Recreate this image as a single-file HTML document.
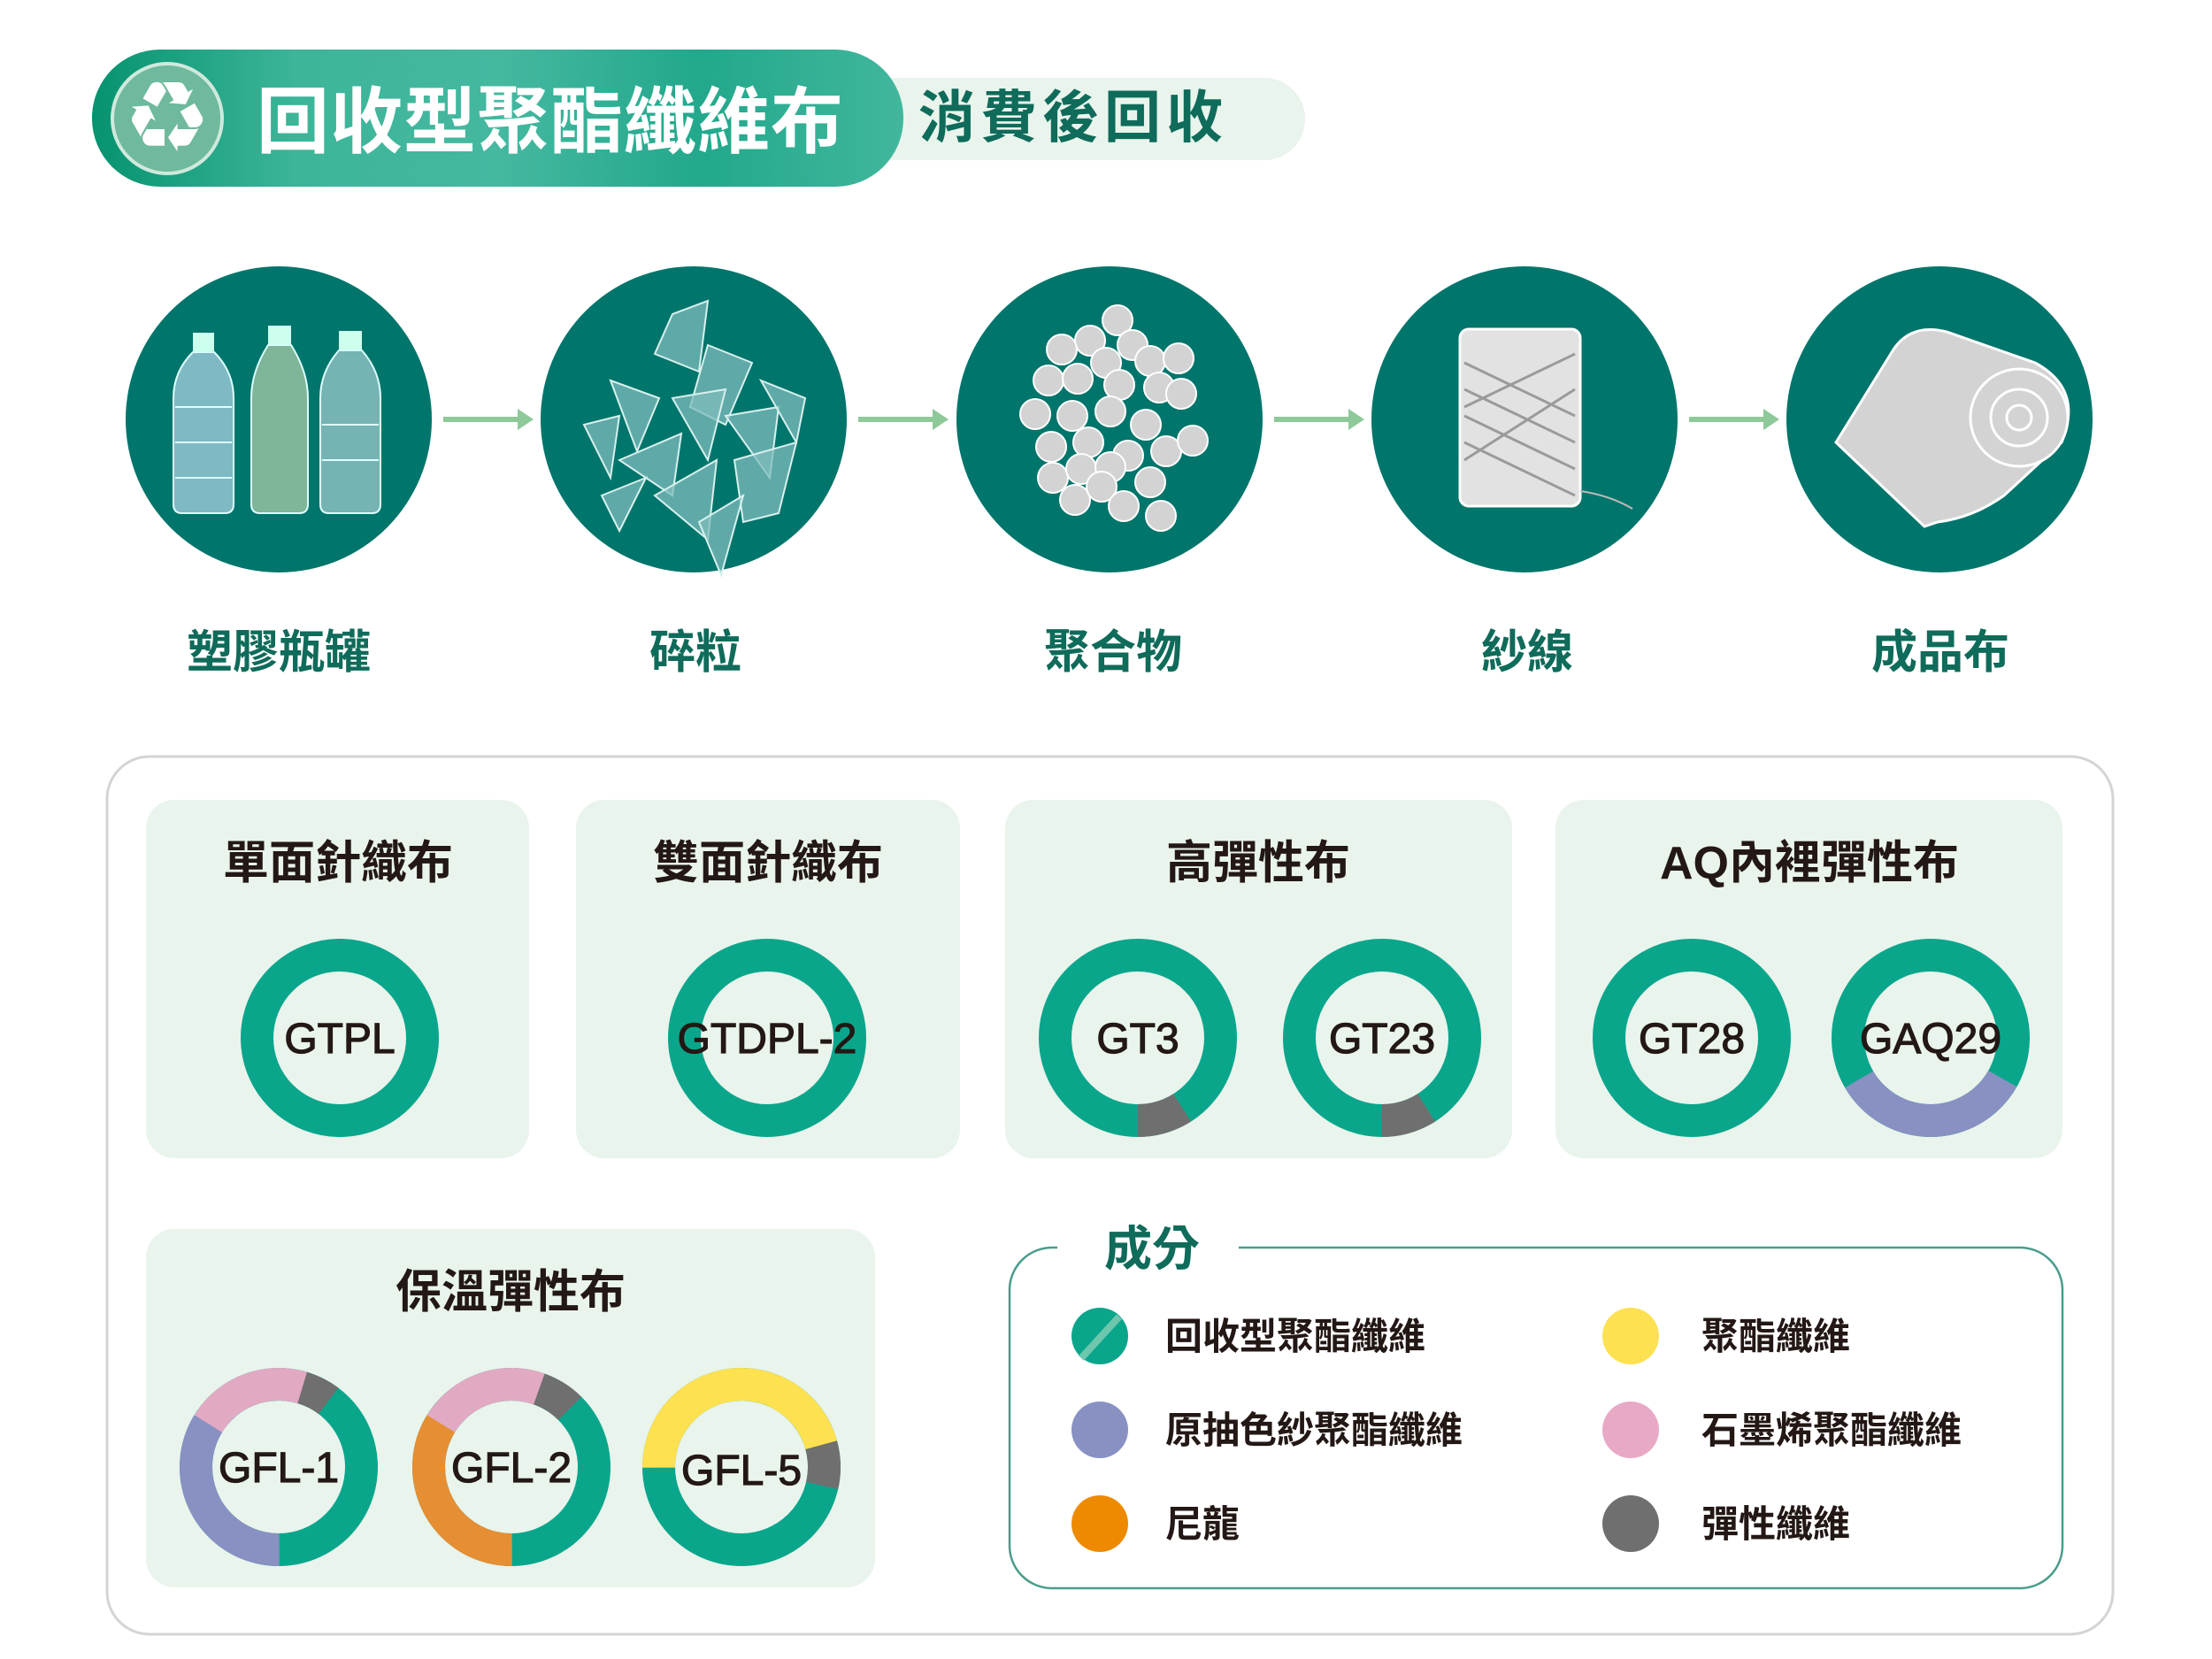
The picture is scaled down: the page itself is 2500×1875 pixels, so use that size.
<!DOCTYPE html>
<html><head><meta charset="utf-8"><style>
html,body{margin:0;padding:0;background:#fff;}
svg{display:block;}
text{font-family:"Liberation Sans","Noto Sans CJK TC",sans-serif;}
</style></head><body>
<svg width="2500" height="1875" viewBox="0 0 2500 1875" xmlns="http://www.w3.org/2000/svg">
<defs>
<linearGradient id="hg" x1="0" x2="1" y1="0" y2="0">
<stop offset="0" stop-color="#06936f"/><stop offset="0.25" stop-color="#3cb598"/><stop offset="0.5" stop-color="#45b8a0"/><stop offset="0.75" stop-color="#22a88c"/><stop offset="1" stop-color="#41b79c"/>
</linearGradient>
</defs>
<!-- header -->
<rect x="960" y="88" width="515" height="93" rx="46" fill="#e9f4ec"/>
<rect x="104" y="56" width="917" height="155" rx="77" fill="url(#hg)"/>
<circle cx="189" cy="134" r="62" fill="#6fb99c" stroke="#cfe9dd" stroke-width="4"/>
<text x="189" y="162" font-size="84" fill="#fff" text-anchor="middle">♻</text>
<text x="290" y="166" font-size="82" font-weight="bold" fill="#fff" letter-spacing="1">回收型聚酯纖維布</text>
<text x="1038" y="155" font-size="64" font-weight="bold" fill="#0f6b5a" letter-spacing="6">消費後回收</text>

<!-- process circles -->
<g fill="#00756b">
<circle cx="315" cy="474" r="173"/><circle cx="784" cy="474" r="173"/><circle cx="1254" cy="474" r="173"/><circle cx="1723" cy="474" r="173"/><circle cx="2192" cy="474" r="173"/>
</g>
<g stroke="#8ec99a" stroke-width="6" fill="#8ec99a">
<line x1="501" y1="474" x2="590" y2="474"/><polygon points="585,462 603,474 585,486" stroke="none"/>
<line x1="970" y1="474" x2="1059" y2="474"/><polygon points="1054,462 1072,474 1054,486" stroke="none"/>
<line x1="1440" y1="474" x2="1529" y2="474"/><polygon points="1524,462 1542,474 1524,486" stroke="none"/>
<line x1="1909" y1="474" x2="1998" y2="474"/><polygon points="1993,462 2011,474 1993,486" stroke="none"/>
</g>
<!-- bottles -->
<g stroke="#dff" stroke-width="2">
<path d="M218,398 L242,398 Q264,420 264,450 L264,570 Q264,580 254,580 L206,580 Q196,580 196,570 L196,450 Q196,420 218,398 Z" fill="#7fb9c4"/>
<path d="M303,390 L329,390 Q348,420 348,450 L348,570 Q348,580 338,580 L294,580 Q284,580 284,570 L284,450 Q284,420 303,390 Z" fill="#7fb598"/>
<path d="M383,396 L409,396 Q430,420 430,450 L430,570 Q430,580 420,580 L372,580 Q362,580 362,570 L362,450 Q362,420 383,396 Z" fill="#76b3b3"/>
</g>
<g fill="#cfe" ><rect x="218" y="376" width="24" height="22"/><rect x="303" y="368" width="26" height="22"/><rect x="383" y="374" width="26" height="22"/></g>
<g stroke="#dff" stroke-width="2" fill="none">
<line x1="198" y1="460" x2="262" y2="460"/><line x1="198" y1="500" x2="262" y2="500"/><line x1="198" y1="540" x2="262" y2="540"/>
<line x1="364" y1="480" x2="428" y2="480"/><line x1="364" y1="520" x2="428" y2="520"/>
</g>
<!-- shards -->
<g fill="#7fbcbc" fill-opacity="0.75" stroke="#d8f0ee" stroke-width="2">
<polygon points="760,355 800,340 790,420 740,400"/>
<polygon points="690,430 745,450 720,510"/>
<polygon points="800,390 850,410 820,480 780,460"/>
<polygon points="700,520 770,490 760,560"/>
<polygon points="820,470 880,460 870,540"/>
<polygon points="740,560 810,520 800,610"/>
<polygon points="830,520 900,500 880,580 840,590"/>
<polygon points="790,590 840,560 815,650"/>
<polygon points="660,480 700,470 690,540"/>
<polygon points="860,430 910,450 900,500"/>
<polygon points="760,450 820,440 800,520"/>
<polygon points="680,560 730,540 700,600"/>
</g>
<!-- pellets -->
<g fill="#d3d3d3" stroke="#fff" stroke-width="2">
<circle cx="1263" cy="362" r="17"/><circle cx="1232" cy="385" r="17"/><circle cx="1280" cy="390" r="17"/><circle cx="1200" cy="395" r="17"/><circle cx="1250" cy="410" r="17"/>
<circle cx="1300" cy="408" r="17"/><circle cx="1332" cy="405" r="17"/><circle cx="1185" cy="430" r="17"/><circle cx="1218" cy="428" r="17"/><circle cx="1265" cy="435" r="17"/>
<circle cx="1310" cy="438" r="17"/><circle cx="1335" cy="445" r="17"/><circle cx="1170" cy="468" r="17"/><circle cx="1212" cy="470" r="17"/><circle cx="1255" cy="465" r="17"/>
<circle cx="1295" cy="480" r="17"/><circle cx="1318" cy="510" r="17"/><circle cx="1348" cy="498" r="17"/><circle cx="1188" cy="505" r="17"/><circle cx="1230" cy="500" r="17"/>
<circle cx="1275" cy="515" r="17"/><circle cx="1190" cy="540" r="17"/><circle cx="1222" cy="530" r="17"/><circle cx="1255" cy="528" r="17"/><circle cx="1300" cy="545" r="17"/>
<circle cx="1215" cy="565" r="17"/><circle cx="1245" cy="550" r="17"/><circle cx="1270" cy="572" r="17"/><circle cx="1312" cy="583" r="17"/>
</g>
<!-- spool -->
<rect x="1650" y="372" width="136" height="200" rx="10" fill="#e2e2e2" stroke="#fff" stroke-width="3"/>
<g stroke="#9a9a9a" stroke-width="3">
<line x1="1655" y1="410" x2="1780" y2="470"/><line x1="1655" y1="440" x2="1780" y2="500"/><line x1="1655" y1="470" x2="1780" y2="530"/><line x1="1655" y1="500" x2="1780" y2="560"/><line x1="1780" y1="400" x2="1655" y2="460"/><line x1="1780" y1="440" x2="1655" y2="520"/>
</g>
<path d="M1786,555 Q1820,560 1845,575" stroke="#bbb" stroke-width="2" fill="none"/>
<!-- roll -->
<path d="M2075,500 L2140,395 Q2160,365 2200,375 L2300,410 Q2355,440 2330,500 L2265,560 Q2230,585 2190,590 L2175,595 Z" fill="#d3d3d3" stroke="#fff" stroke-width="3"/>
<circle cx="2282" cy="472" r="55" fill="#d3d3d3" stroke="#fff" stroke-width="3"/>
<circle cx="2282" cy="472" r="32" fill="none" stroke="#fff" stroke-width="3"/>
<circle cx="2282" cy="472" r="14" fill="none" stroke="#fff" stroke-width="3"/>

<g font-size="52" font-weight="bold" fill="#0f6b5a" text-anchor="middle">
<text x="315" y="755">塑膠瓶罐</text><text x="786" y="755">碎粒</text><text x="1258" y="755">聚合物</text><text x="1726" y="755">紗線</text><text x="2193" y="755">成品布</text>
</g>

<!-- outer box -->
<rect x="121" y="855" width="2267" height="992" rx="48" fill="#fff" stroke="#d4d4d4" stroke-width="3"/>
<g fill="#e9f4ec">
<rect x="165" y="904" width="433" height="405" rx="32"/>
<rect x="651" y="904" width="434" height="405" rx="32"/>
<rect x="1136" y="904" width="573" height="405" rx="32"/>
<rect x="1758" y="904" width="573" height="405" rx="32"/>
<rect x="165" y="1389" width="824" height="405" rx="32"/>
</g>
<g font-size="52" font-weight="bold" fill="#231815" text-anchor="middle">
<text x="382" y="993">單面針織布</text><text x="868" y="993">雙面針織布</text><text x="1422" y="993">高彈性布</text><text x="2045" y="993">AQ內裡彈性布</text><text x="577" y="1478">保溫彈性布</text>
</g>

<!-- donuts -->
<g fill="none" stroke-width="37">
<circle cx="384" cy="1173" r="93.5" stroke="#0aa68c"/>
<circle cx="867" cy="1173" r="93.5" stroke="#0aa68c"/>
<circle cx="1286" cy="1173" r="93.5" stroke="#0aa68c"/>
<circle cx="1286" cy="1173" r="93.5" stroke="#6f6f6f" pathLength="360" stroke-dasharray="32 328" transform="rotate(58 1286 1173)"/>
<circle cx="1562" cy="1173" r="93.5" stroke="#0aa68c"/>
<circle cx="1562" cy="1173" r="93.5" stroke="#6f6f6f" pathLength="360" stroke-dasharray="32 328" transform="rotate(58 1562 1173)"/>
<circle cx="1912" cy="1173" r="93.5" stroke="#0aa68c"/>
<circle cx="2182" cy="1173" r="93.5" stroke="#0aa68c"/>
<circle cx="2182" cy="1173" r="93.5" stroke="#8891c2" pathLength="360" stroke-dasharray="120 240" transform="rotate(30 2182 1173)"/>
<circle cx="315" cy="1658" r="93.5" stroke="#0aa68c"/>
<circle cx="315" cy="1658" r="93.5" stroke="#8891c2" pathLength="360" stroke-dasharray="122 238" transform="rotate(90 315 1658)"/>
<circle cx="315" cy="1658" r="93.5" stroke="#e2a9c3" pathLength="360" stroke-dasharray="75 285" transform="rotate(212 315 1658)"/>
<circle cx="315" cy="1658" r="93.5" stroke="#6f6f6f" pathLength="360" stroke-dasharray="20 340" transform="rotate(287 315 1658)"/>
<circle cx="578" cy="1658" r="93.5" stroke="#0aa68c"/>
<circle cx="578" cy="1658" r="93.5" stroke="#e68e33" pathLength="360" stroke-dasharray="122 238" transform="rotate(90 578 1658)"/>
<circle cx="578" cy="1658" r="93.5" stroke="#e2a9c3" pathLength="360" stroke-dasharray="78 282" transform="rotate(212 578 1658)"/>
<circle cx="578" cy="1658" r="93.5" stroke="#6f6f6f" pathLength="360" stroke-dasharray="25 335" transform="rotate(290 578 1658)"/>
<circle cx="838" cy="1658" r="93.5" stroke="#0aa68c"/>
<circle cx="838" cy="1658" r="93.5" stroke="#fde150" pathLength="360" stroke-dasharray="165 195" transform="rotate(180 838 1658)"/>
<circle cx="838" cy="1658" r="93.5" stroke="#6f6f6f" pathLength="360" stroke-dasharray="28 332" transform="rotate(345 838 1658)"/>
</g>
<g font-size="48" fill="#231815" stroke="#231815" stroke-width="1.2" text-anchor="middle">
<text x="384" y="1190">GTPL</text><text x="867" y="1190">GTDPL-2</text><text x="1286" y="1190">GT3</text><text x="1562" y="1190">GT23</text><text x="1912" y="1190">GT28</text><text x="2182" y="1190">GAQ29</text>
<text x="315" y="1675">GFL-1</text><text x="578" y="1675">GFL-2</text><text x="838" y="1678">GFL-5</text>
</g>

<!-- legend -->
<rect x="1141" y="1410" width="1190" height="385" rx="48" fill="#fff" stroke="#4a9c8c" stroke-width="2.5"/>
<rect x="1195" y="1385" width="205" height="50" fill="#fff"/>
<text x="1248" y="1430" font-size="54" font-weight="bold" fill="#0f6b5a">成分</text>
<circle cx="1243" cy="1510" r="32" fill="#0aa68c"/>
<path d="M1222,1535 L1265,1488" stroke="#6cc7ad" stroke-width="8"/>
<circle cx="1243" cy="1616" r="32" fill="#8891c2"/>
<circle cx="1243" cy="1722" r="32" fill="#ee8a00"/>
<circle cx="1843" cy="1510" r="32" fill="#fde150"/>
<circle cx="1843" cy="1616" r="32" fill="#e8a9c6"/>
<circle cx="1843" cy="1722" r="32" fill="#6f6f6f"/>
<g font-size="42" font-weight="bold" fill="#231815">
<text x="1317" y="1525">回收型聚酯纖維</text><text x="1317" y="1631">原抽色紗聚酯纖維</text><text x="1317" y="1737">尼龍</text>
<text x="1923" y="1525">聚酯纖維</text><text x="1923" y="1631">石墨烯聚酯纖維</text><text x="1923" y="1737">彈性纖維</text>
</g>
</svg>
</body></html>
